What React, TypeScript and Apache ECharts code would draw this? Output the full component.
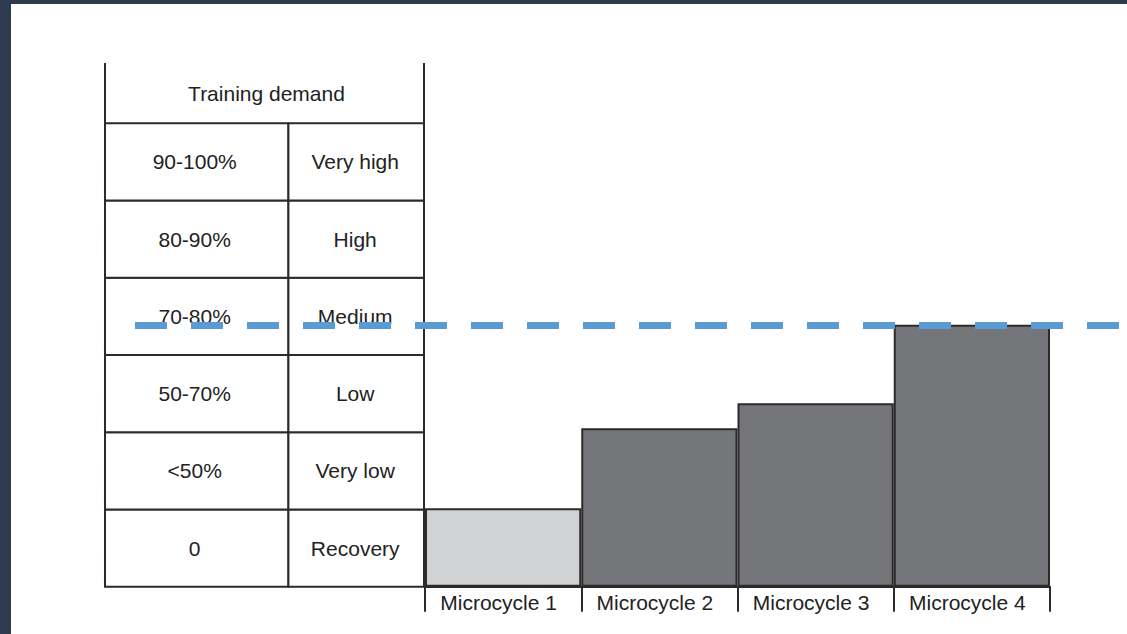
import React, { useEffect, useRef } from "react";
import * as echarts from "echarts";

// Microcycles along the bottom axis
const microcycles = ["Microcycle 1", "Microcycle 2", "Microcycle 3", "Microcycle 4"];
// Training demand of each microcycle, in table-row units (0 = bottom, 1 row = 1)
const demandLevels = [1.015, 2.05, 2.375, 3.39];
// Target demand shown by the dashed line
const targetLevel = 3.38;
// Table rows, bottom to top
const demandRanges = ["0", "<50%", "50-70%", "70-80%", "80-90%", "90-100%"];
const demandNames = ["Recovery", "Very low", "Low", "Medium", "High", "Very high"];
const tableTitle = "Training demand";

const FONT = '"Liberation Sans", Arial, Helvetica, sans-serif';
const FONT_SIZE = 21;
const INK = "#2b2b2b";
const TEXT = "#222";
const Y_MAX = 6.78;
const COL_SPLIT = 0.575;

export default function App() {
  const ref = useRef<HTMLDivElement>(null);

  useEffect(() => {
    if (!ref.current) return;
    const chart = echarts.init(ref.current, null, { renderer: "svg" });

    const rowCount = demandRanges.length;
    const tableRows = [...demandRanges.map((_, i) => [i]), [rowCount]];

    const renderTable = (params: any, api: any) => {
      const i = params.dataIndex;
      const [x0, yb] = api.coord([0, i]);
      const [x1] = api.coord([COL_SPLIT, i]);
      const [x2] = api.coord([1, i]);
      if (i < rowCount) {
        const yt = api.coord([0, i + 1])[1];
        const cellStyle = { fill: "#fff", stroke: INK, lineWidth: 2 };
        const textStyle = (text: string, cx: number) => ({
          text,
          x: cx,
          y: (yb + yt) / 2,
          align: "center",
          verticalAlign: "middle",
          fontSize: FONT_SIZE,
          fontFamily: FONT,
          fill: TEXT,
        });
        return {
          type: "group",
          children: [
            { type: "rect", shape: { x: x0, y: yt, width: x1 - x0, height: yb - yt }, style: cellStyle },
            { type: "rect", shape: { x: x1, y: yt, width: x2 - x1, height: yb - yt }, style: cellStyle },
            { type: "text", style: textStyle(demandRanges[i], (x0 + x1) / 2 - 2) },
            { type: "text", style: textStyle(demandNames[i], (x1 + x2) / 2 - 1) },
          ],
        };
      }
      const yt = api.coord([0, Y_MAX])[1];
      const lineStyle = { stroke: INK, lineWidth: 2 };
      return {
        type: "group",
        children: [
          { type: "line", shape: { x1: x0, y1: yt, x2: x0, y2: yb }, style: lineStyle },
          { type: "line", shape: { x1: x2, y1: yt, x2: x2, y2: yb }, style: lineStyle },
          {
            type: "text",
            style: {
              text: tableTitle,
              x: (x0 + x2) / 2 + 2,
              y: (yt + yb) / 2,
              align: "center",
              verticalAlign: "middle",
              fontSize: FONT_SIZE,
              fontFamily: FONT,
              fill: TEXT,
            },
          },
        ],
      };
    };

    chart.setOption({
      animation: false,
      backgroundColor: "#2e3a4d",
      textStyle: { fontFamily: FONT },
      graphic: [
        {
          type: "rect",
          z: -10,
          silent: true,
          shape: { x: 11, y: 4, width: 1116, height: 630 },
          style: { fill: "#ffffff" },
        },
      ],
      grid: [
        { left: 105, top: 63, width: 319, height: 523.7 },
        { left: 425, top: 63, width: 625, height: 523.7 },
      ],
      xAxis: [
        { type: "value", gridIndex: 0, min: 0, max: 1, show: false },
        {
          type: "category",
          gridIndex: 1,
          data: microcycles,
          boundaryGap: true,
          axisLine: { lineStyle: { color: INK, width: 2 } },
          axisTick: { show: true, length: 25, lineStyle: { color: INK, width: 2 } },
          axisLabel: {
            margin: 5,
            fontSize: FONT_SIZE,
            color: TEXT,
            fontFamily: FONT,
            padding: [0, 9, 0, 0],
          },
        },
      ],
      yAxis: [
        { type: "value", gridIndex: 0, min: 0, max: Y_MAX, show: false },
        { type: "value", gridIndex: 1, min: 0, max: Y_MAX, show: false },
      ],
      series: [
        {
          type: "custom",
          xAxisIndex: 0,
          yAxisIndex: 0,
          data: tableRows,
          renderItem: renderTable,
          silent: true,
        },
        {
          type: "bar",
          xAxisIndex: 1,
          yAxisIndex: 1,
          barCategoryGap: "0%",
          data: demandLevels.map((v, i) =>
            i === 0 ? { value: v, itemStyle: { color: "#d1d2d4" } } : v
          ),
          itemStyle: { color: "#757679", borderColor: INK, borderWidth: 2 },
          markLine: {
            silent: true,
            symbol: ["none", "none"],
            label: { show: false },
            z: 10,
            lineStyle: { color: "#5b9bd5", width: 7, type: [32, 24], opacity: 1 },
            data: [[{ x: 135, yAxis: targetLevel }, { x: 1127, yAxis: targetLevel }]],
          },
        },
      ],
    });

    return () => chart.dispose();
  }, []);

  return (
    <div
      ref={ref}
      style={{ position: "fixed", left: 0, top: 0, width: 1127, height: 634 }}
    />
  );
}
